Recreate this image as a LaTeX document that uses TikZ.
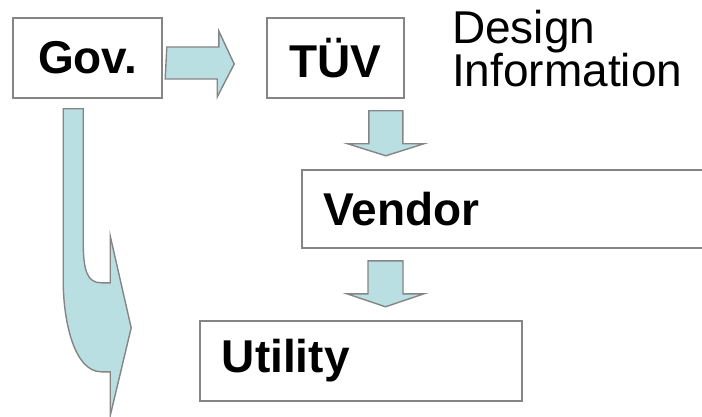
\documentclass[tikz,border=0pt]{standalone}
\usepackage{fontspec}
\setmainfont{Liberation Sans}
\usetikzlibrary{positioning,calc}

\definecolor{arrowfill}{HTML}{B9DFE3}
\definecolor{edgegray}{HTML}{858585}
\tikzset{
  box/.style={draw=edgegray,line width=1.6pt,rectangle,minimum height=80pt,inner sep=0pt,
    font=\fontsize{46}{46}\selectfont\bfseries},
  blockarrow/.style={draw=edgegray,fill=arrowfill,line width=1.4pt,line join=miter}
}

\begin{document}
\begin{tikzpicture}[x=1pt,y=-1pt]
\clip (0,0) rectangle (702,417);
\node (gov) [box,minimum width=149pt] at (87.5,58) {Gov.};
\node (tuv) [box,minimum width=137pt] at (335.5,58) {TÜV};
\node (vendor) [box,anchor=west,minimum height=78pt,text width=376pt,inner xsep=22pt,align=left] at (301,209) {Vendor};
\node (util) [box,anchor=west,text width=278pt,inner xsep=22pt,align=left] at (199,361) {Utility};
\node (info) [anchor=north west,inner sep=0pt,align=left,font=\fontsize{46}{42}\selectfont] at (452,9.5) {Design\\Information};
% gov -> tuv
\draw[blockarrow] ($(gov.east)+(4,-11)$) -- ++(52,0) -- ++(0,-16) -- ($(tuv.west)+(-32,6)$) -- ++(-17,33) -- ++(0,-18) -- ++(-52,0) -- cycle;
% tuv -> vendor
\draw[blockarrow] ($(tuv.south east)+(-36,12)$) -- ++(34,0) -- ++(0,33) -- ++(21,0) -- ++(-38,12) -- ++(-38,-12) -- ++(21,0) -- cycle;
% vendor -> utility
\draw[blockarrow] ($(vendor.south west)+(67,12)$) -- ++(35,0) -- ++(0,33) -- ++(21,0) -- ++(-38.5,13) -- ++(-38.5,-13) -- ++(21,0) -- cycle;
% gov -> utility, bent
\coordinate (bend) at ($(gov.south west)+(51,10)$);
\draw[blockarrow] (bend) -- ++(20,0) -- ++(0,132) .. controls ++(0,30) and ++(-14,0) .. ++(18,42) -- ++(9,0) -- ++(0,-47) -- ++(21,92) -- ++(-21,88) -- ++(0,-44) -- ++(-9,0) .. controls ++(-27,0) and ++(0,40) .. ++(-38,-91) -- cycle;
\end{tikzpicture}
\end{document}
